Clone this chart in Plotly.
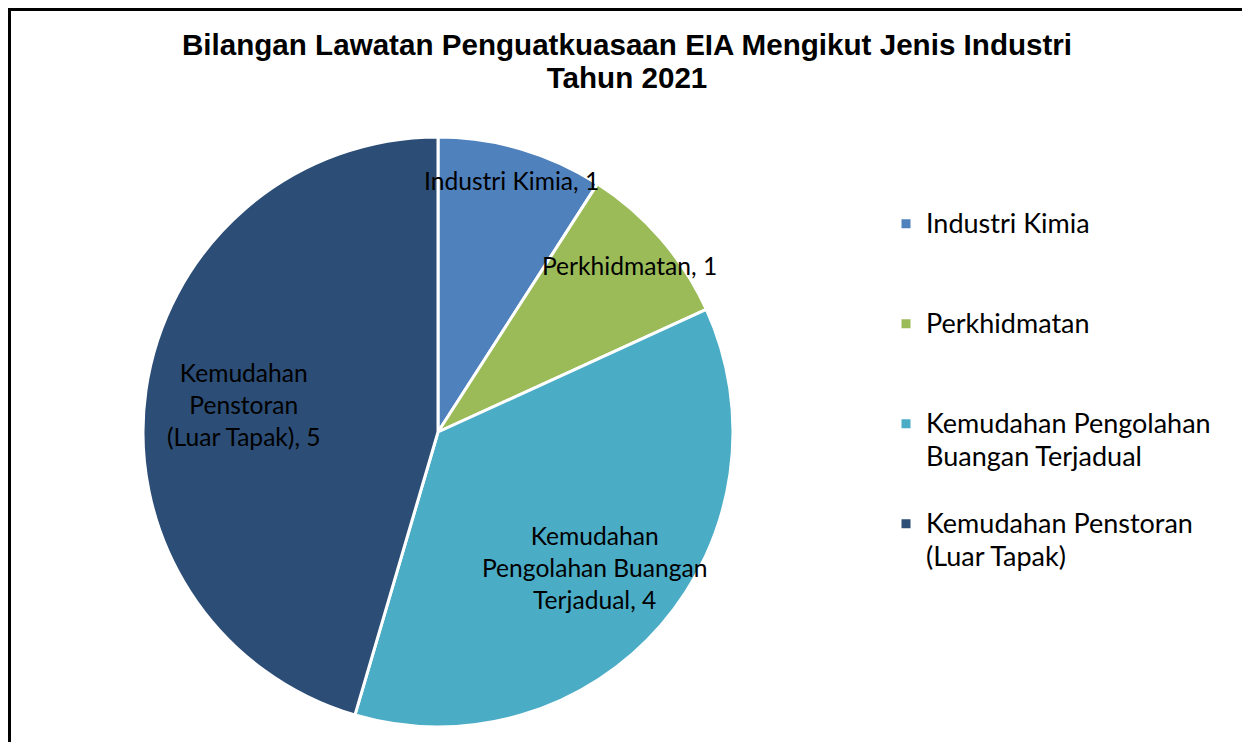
import math
import plotly.graph_objects as go

# ---- data ----
categories = ["Industri Kimia", "Perkhidmatan",
              "Kemudahan Pengolahan Buangan Terjadual",
              "Kemudahan Penstoran (Luar Tapak)"]
values = [1, 1, 4, 5]
legend_names = ["Industri Kimia", "Perkhidmatan",
                "Kemudahan Pengolahan<br>Buangan Terjadual",
                "Kemudahan Penstoran<br>(Luar Tapak)"]
label_names = ["Industri Kimia", "Perkhidmatan",
               "Kemudahan<br>Pengolahan Buangan<br>Terjadual",
               "Kemudahan<br>Penstoran<br>(Luar Tapak)"]
colors = ["#4F81BD", "#9BBB59", "#4BACC6", "#2C4D75"]
title_lines = ["Bilangan Lawatan Penguatkuasaan EIA Mengikut Jenis Industri", "Tahun 2021"]

# ---- layout constants (page offset of 8px body margin compensated) ----
W, H = 1250, 742
DOM_X = [135 / W, 725 / W]
DOM_Y = [23 / H, 613 / H]
LABEL_RADIUS = [0.89, 0.86, 0.70, 0.665]


def legend_text(name):
    lines = name.split("<br>")
    lines = [f'<span style="font-size:27px">{l}</span>' for l in lines]
    while len(lines) < 3:
        lines.append(" ")
    return "<br>".join(lines)


fig = go.Figure()
fig.add_trace(go.Pie(
    labels=[legend_text(n) for n in legend_names],
    values=values,
    sort=False,
    direction="clockwise",
    rotation=0,
    marker=dict(colors=colors, line=dict(color="white", width=3)),
    textinfo="none",
    hovertext=categories,
    hoverinfo="text+value",
    domain=dict(x=DOM_X, y=DOM_Y),
    showlegend=True,
))

# data labels placed along each slice bisector (computed from values)
total = sum(values)
cx = (DOM_X[0] + DOM_X[1]) / 2 * W
cy = (1 - (DOM_Y[0] + DOM_Y[1]) / 2) * H
r = min((DOM_X[1] - DOM_X[0]) * W, (DOM_Y[1] - DOM_Y[0]) * H) / 2
cum = 0
annotations = []
for name, v, f in zip(label_names, values, LABEL_RADIUS):
    mid = (cum + v / 2) / total * 2 * math.pi
    cum += v
    px = cx + r * f * math.sin(mid)
    py = cy - r * f * math.cos(mid)
    annotations.append(dict(
        x=px / W, y=1 - py / H, xref="paper", yref="paper",
        text=f"{name}, {v}", showarrow=False, align="center",
        xanchor="center", yanchor="middle",
        font=dict(family="Lato, Calibri, sans-serif", size=24.6, color="black"),
    ))

title_html = "<br>".join(f'<span style="font-size:29.6px">{t}</span>' for t in title_lines)

fig.update_layout(
    width=W, height=H,
    margin=dict(l=0, r=0, t=0, b=0),
    paper_bgcolor="white",
    plot_bgcolor="white",
    title=dict(
        text=title_html,
        x=619 / W, xanchor="center", xref="paper",
        y=1 - 47 / H, yanchor="top", yref="paper",
        font=dict(family="Liberation Sans, Arial, sans-serif", size=25.4,
                  color="black", weight="bold"),
    ),
    legend=dict(
        x=878 / W, xanchor="left",
        y=1 - 193 / H, yanchor="top",
        font=dict(family="Lato, Calibri, sans-serif", size=24.87, color="black"),
        valign="top",
        bgcolor="rgba(0,0,0,0)",
        traceorder="normal",
    ),
    annotations=annotations,
    shapes=[dict(type="rect", xref="paper", yref="paper",
                 x0=1.5 / W, x1=1.02, y0=-0.02, y1=1 - 1.5 / H,
                 line=dict(color="black", width=3), fillcolor="rgba(0,0,0,0)",
                 layer="above")],
)

fig.write_html("out.html")
